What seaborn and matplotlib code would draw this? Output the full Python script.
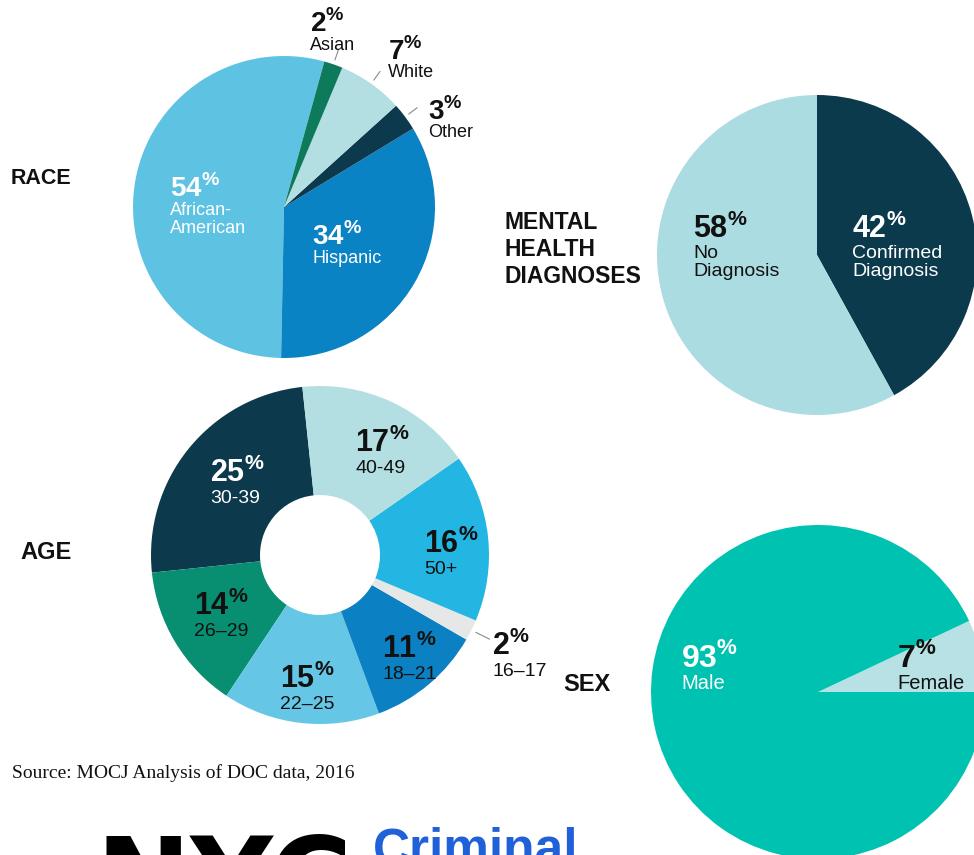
"""Demografie-Kreisdiagramme (Race, Mental Health, Age, Sex) nachgebaut."""
import matplotlib
matplotlib.use("Agg")
import numpy as np
import matplotlib.pyplot as plt
import seaborn as sns

W, H = 974, 855

# Daten
race_labels = ["African-\nAmerican", "Hispanic", "Other", "White", "Asian"]
race_values = [54, 34, 3, 7, 2]
race_colors = ["#5ec3e3", "#0a83c4", "#0c3a4c", "#b3dfe3", "#0d7b5b"]

mental_labels = ["Confirmed\nDiagnosis", "No\nDiagnosis"]
mental_values = [42, 58]
mental_colors = ["#0c3a4d", "#abdce1"]

age_labels = ["30-39", "26–29", "22–25", "18–21", "16–17", "50+", "40-49"]
age_values = [25, 14, 15, 11, 2, 16, 17]
age_colors = ["#0c3a4c", "#088e71", "#66c6e5", "#0b80c2", "#e6e8e8", "#24b6e2", "#b3dfe2"]

sex_labels = ["Female", "Male"]
sex_values = [7, 93]
sex_colors = ["#b7e1e4", "#00c2b0"]

sns.set_theme(style="white")
plt.rcParams["font.family"] = ["Liberation Sans", "DejaVu Sans"]
plt.rcParams["mathtext.fontset"] = "custom"
plt.rcParams["mathtext.bf"] = "Liberation Sans:bold"
plt.rcParams["mathtext.rm"] = "Liberation Sans"


def Y(y):
    # Pixel von oben -> Datenkoordinate von unten
    return H - y


def draw_pie(ax, values, colors, cx, cy, r, start, clockwise=False, hole=None):
    wp = dict(linewidth=0)
    if hole is not None:
        wp["width"] = r * (1 - hole)
    wedges, _ = ax.pie(values, colors=colors, center=(cx, Y(cy)), radius=r,
                       startangle=start, counterclock=not clockwise, wedgeprops=wp)
    return wedges


def pct_label(ax, x, y, value, name, color, size, name_size, step, line_step=None):
    if line_step is None:
        line_step = step
    ax.text(x, Y(y), rf"$\mathbf{{{value}}}^{{\mathbf{{\%}}}}$", color=color,
            fontsize=size, ha="left", va="baseline")
    for i, line in enumerate(name.split("\n")):
        ax.text(x, Y(y + step + line_step * i), line, color=color, fontsize=name_size,
                ha="left", va="baseline")


def leader(ax, wedge, cx, cy, r, r0=1.04, r1=1.12):
    ang = np.deg2rad((wedge.theta1 + wedge.theta2) / 2)
    ax.plot([cx + r * r0 * np.cos(ang), cx + r * r1 * np.cos(ang)],
            [Y(cy) + r * r0 * np.sin(ang), Y(cy) + r * r1 * np.sin(ang)],
            color="#8a8a8a", lw=0.8)


fig = plt.figure(figsize=(W / 100, H / 100), dpi=100)
ax = fig.add_axes([0, 0, 1, 1])

# RACE
rw = draw_pie(ax, race_values, race_colors, 284, 207, 151, 74.5)
pct_label(ax, 170, 197, race_values[0], race_labels[0], "white", 20, 13, 18)
pct_label(ax, 312, 245, race_values[1], race_labels[1], "white", 20, 13, 18)
pct_label(ax, 428, 120, race_values[2], race_labels[2], "#111111", 20, 13, 17)
pct_label(ax, 388, 60, race_values[3], race_labels[3], "#111111", 20, 13, 17)
pct_label(ax, 310, 32, race_values[4], race_labels[4], "#111111", 20, 13, 18)
for w in rw[2:]:
    leader(ax, w, 284, 207, 151, 1.03, 1.1)
ax.text(11, Y(184), "RACE", fontsize=15.5, fontweight="bold", color="#111111")

# MENTAL HEALTH
draw_pie(ax, mental_values, mental_colors, 817, 255, 160, 90, clockwise=True)
pct_label(ax, 852, 238, mental_values[0], mental_labels[0], "white", 22, 14, 20, 18)
pct_label(ax, 693, 238, mental_values[1], mental_labels[1], "#111111", 22, 14, 20, 18)
for i, line in enumerate(["MENTAL", "HEALTH", "DIAGNOSES"]):
    ax.text(505, Y(229 + 27 * i), line, fontsize=16.5, fontweight="bold",
            color="#111111", va="baseline")

# AGE
aw = draw_pie(ax, age_values, age_colors, 320, 555, 169, 96, hole=0.355)
age_pos = [(210, 482), (194, 615), (280, 688), (382, 658), (492, 655), (424, 553), (355, 452)]
age_txt = ["white", "#111111", "#111111", "#111111", "#111111", "#111111", "#111111"]
for (x, y), v, lab, c in zip(age_pos, age_values, age_labels, age_txt):
    pct_label(ax, x, y, v, lab, c, 22, 14, 21)
leader(ax, aw[4], 320, 555, 169, 1.03, 1.12)
ax.text(20, Y(559), "AGE", fontsize=17, fontweight="bold", color="#111111")

# SEX
draw_pie(ax, sex_values, sex_colors, 818, 692, 167, 0)
pct_label(ax, 897, 667, sex_values[0], sex_labels[0], "#111111", 23, 14.5, 22)
pct_label(ax, 681, 667, sex_values[1], sex_labels[1], "white", 23, 14.5, 22)
ax.text(563, Y(691), "SEX", fontsize=17, fontweight="bold", color="#111111")

# Quelle und Logo (Logo ist im Original unten abgeschnitten)
ax.text(12, Y(778), "Source: MOCJ Analysis of DOC data, 2016", fontsize=14,
        family=["Liberation Serif"], color="#111111")
ax.text(95, Y(832), "NYC", fontsize=82, fontweight="black", color="black",
        family=["DejaVu Sans"], va="top")
ax.text(373, Y(826), "Criminal", fontsize=37, fontweight="bold", color="#2060d8", va="top")

ax.set_xlim(0, W)
ax.set_ylim(0, H)
ax.set_aspect("equal")
ax.axis("off")

fig.savefig("out.png", dpi=100)
plt.close(fig)
